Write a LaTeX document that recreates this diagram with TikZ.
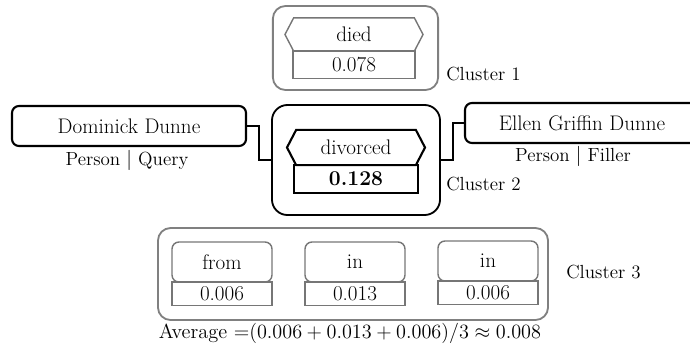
\documentclass[tikz,border=0pt]{standalone}
\usepackage{amsmath}
\usepackage{xcolor}
\usepackage{tikz}
\usetikzlibrary{positioning,shapes.symbols}
\definecolor{FrameGray}{HTML}{808080}
\definecolor{BoxGray}{HTML}{767676}

\begin{document}
\begin{tikzpicture}[
    x=0.025cm, y=-0.025cm,
    font=\fontsize{15}{17}\selectfont,
    clusterbox/.style={rectangle, rounded corners=9pt, draw=FrameGray, line width=1.3pt, inner sep=0pt},
    keybox/.style={rectangle, rounded corners=11pt, draw=black, line width=1.3pt, inner sep=0pt},
    relhex/.style={signal, signal to=west and east, signal pointer angle=125, draw=BoxGray, line width=1pt, minimum width=3.45cm, minimum height=0.83cm, inner sep=0pt, outer sep=0pt},
    relscore/.style={rectangle, draw=BoxGray, line width=1pt, minimum width=3.05cm, minimum height=0.68cm, inner sep=0pt, outer sep=0pt},
    entity/.style={rectangle, rounded corners=5pt, draw=black, line width=1.5pt, minimum width=5.85cm, minimum height=1cm, inner sep=0pt},
    tag/.style={font=\fontsize{13.5}{15}\selectfont, inner sep=0pt},
    wordbox/.style={rectangle, rounded corners=5pt, draw=BoxGray, line width=1pt, minimum width=2.5cm, minimum height=1cm, inner sep=0pt, outer sep=0pt},
    wordscore/.style={rectangle, draw=BoxGray, line width=1pt, minimum width=2.5cm, minimum height=0.58cm, inner sep=0pt, outer sep=0pt},
    link/.style={draw=black, line width=1.3pt}
]
\clip (0,0) rectangle (690,345);

\node[clusterbox, minimum width=4.13cm, minimum height=2.1cm] (c1) at (355.5,48) {};
\node[relhex] (died) at (354,34.5) {died};
\node[relscore, below=0pt of died] (diedv) {0.078};
\node[tag, anchor=west] (c1lab) at (446,74) {Cluster 1};

\node[keybox, minimum width=4.2cm, minimum height=2.75cm] (c2) at (356,160) {};
\node[relhex, draw=black, line width=1.5pt, minimum height=0.88cm] (div) at (356,147.5) {divorced};
\node[relscore, draw=black, line width=1.5pt, minimum width=3.12cm, minimum height=0.7cm, below=0pt of div] (divv) {\textbf{0.128}};
\node[tag, anchor=west] (c2lab) at (446,184) {Cluster 2};

\node[entity] (dom) at (129,126) {Dominick Dunne};
\node[tag] (domtag) at (127,160) {Person $|$ Query};
\node[entity] (ellen) at (582,123) {Ellen Griffin Dunne};
\node[tag] (ellentag) at (573,156) {Person $|$ Filler};

\draw[link] (dom.east) -- ++(12,0) |- (c2.west);
\draw[link] (c2.east) -- ++(12,0) |- (ellen.west);

\node[clusterbox, minimum width=9.75cm, minimum height=2.3cm] (c3) at (353,274) {};
\node[wordbox] (w1) at (222,262) {from};
\node[wordscore, below=0pt of w1] (w1v) {0.006};
\node[wordbox] (w2) at (355,262) {in};
\node[wordscore, below=0pt of w2] (w2v) {0.013};
\node[wordbox] (w3) at (488,261) {in};
\node[wordscore, below=0pt of w3] (w3v) {0.006};
\node[tag, anchor=west] (c3lab) at (566,272) {Cluster 3};

\node[font=\fontsize{14.5}{16}\selectfont] (avg) at (350,333) {Average =$(0.006 + 0.013 + 0.006)/3 \approx 0.008$};
\end{tikzpicture}
\end{document}
